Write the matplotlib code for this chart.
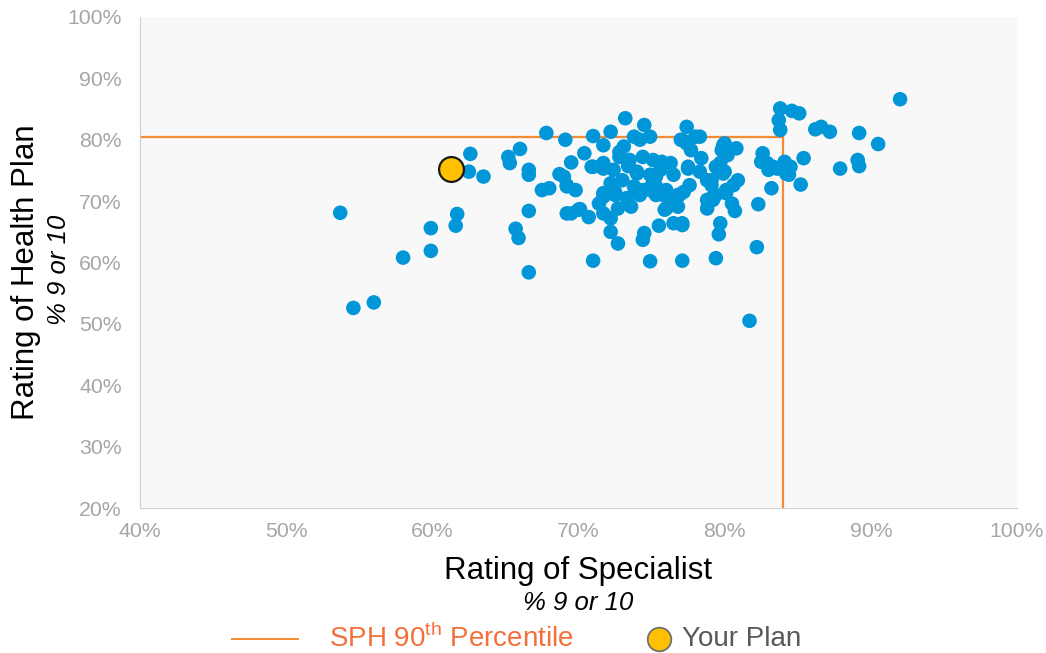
import matplotlib.pyplot as plt
from matplotlib.lines import Line2D
from matplotlib.ticker import PercentFormatter

plt.rcParams['font.family'] = ['Liberation Sans', 'DejaVu Sans']
plt.rcParams['mathtext.fontset'] = 'custom'
plt.rcParams['mathtext.rm'] = 'Liberation Sans'

# plans: (rating of specialist %, rating of health plan %)
plans = [
    (53.7, 68.1), (54.6, 52.6), (56.0, 53.5), (58.0, 60.8), (59.9, 61.9), (59.9, 65.6),
    (61.6, 66.0), (61.7, 67.9), (61.4, 74.5), (62.5, 74.8), (62.6, 77.7), (63.5, 74.0),
    (65.2, 77.2), (65.3, 76.2), (66.0, 78.5), (66.6, 75.1), (66.6, 74.3), (65.7, 65.5),
    (65.9, 64.0), (66.6, 68.4), (66.6, 58.4), (67.8, 81.1), (67.5, 71.8), (68.0, 72.1),
    (68.7, 74.4), (69.2, 72.6), (69.1, 80.0), (69.5, 76.3), (69.2, 68.0), (69.5, 68.0),
    (70.1, 68.7), (70.7, 67.4), (69.0, 74.0), (69.2, 72.4), (69.8, 71.8), (70.0, 68.6),
    (70.4, 77.8), (70.9, 75.6), (71.7, 75.3), (72.4, 75.1), (74.0, 74.5), (71.0, 80.6),
    (72.2, 81.3), (71.7, 79.1), (73.2, 83.5), (74.5, 82.4), (74.9, 80.5), (73.8, 80.5),
    (73.1, 78.9), (72.8, 77.2), (72.8, 78.0), (73.5, 76.7), (74.4, 77.2), (75.1, 76.7),
    (75.7, 76.4), (76.3, 76.2), (76.5, 74.3), (75.3, 74.0), (74.0, 74.8), (74.9, 74.3),
    (75.6, 75.1), (71.7, 76.2), (71.0, 75.6), (72.2, 72.9), (73.0, 73.4), (73.8, 72.4),
    (74.4, 71.8), (71.7, 71.3), (72.5, 71.0), (75.3, 71.0), (76.0, 71.8), (76.9, 71.0),
    (71.4, 69.6), (71.7, 70.7), (72.5, 71.5), (73.3, 70.5), (73.9, 71.8), (74.2, 71.0),
    (71.7, 68.0), (72.2, 67.2), (72.7, 68.8), (73.6, 69.1), (72.2, 65.0), (72.7, 63.1),
    (74.5, 64.8), (74.4, 63.7), (71.0, 60.3), (74.9, 60.2), (77.1, 60.3), (74.9, 71.8),
    (75.3, 72.4), (75.8, 71.0), (76.3, 70.2), (76.8, 71.0), (76.8, 69.1), (76.0, 68.8),
    (75.9, 68.6), (75.5, 66.0), (76.5, 66.4), (77.1, 66.1), (77.4, 82.1), (78.0, 80.5),
    (77.0, 80.0), (77.4, 79.4), (78.3, 80.5), (77.3, 79.7), (77.7, 78.3), (78.4, 77.0),
    (77.5, 75.6), (77.5, 75.3), (78.3, 74.8), (79.9, 79.1), (80.8, 78.6), (80.2, 77.5),
    (80.0, 79.4), (79.8, 78.3), (79.7, 76.2), (80.0, 74.8), (79.4, 75.6), (79.9, 74.5),
    (79.1, 73.4), (78.8, 73.4), (79.1, 72.6), (80.9, 73.4), (80.6, 72.6), (77.6, 72.6),
    (77.2, 71.5), (79.2, 70.7), (80.1, 71.3), (78.8, 70.2), (79.2, 70.2), (78.8, 68.8),
    (79.4, 71.0), (80.1, 71.8), (80.5, 69.6), (80.7, 68.4), (79.7, 66.4), (79.6, 64.6),
    (77.1, 66.4), (82.3, 69.5), (82.2, 62.5), (79.4, 60.7), (81.7, 50.5), (82.6, 77.8),
    (82.5, 76.4), (83.0, 75.1), (83.3, 75.6), (83.9, 75.6), (82.9, 76.2), (83.6, 75.3),
    (84.1, 76.4), (84.5, 75.6), (84.4, 74.3), (84.2, 74.5), (85.4, 77.0), (83.2, 72.1),
    (85.2, 72.7), (83.8, 85.1), (84.6, 84.7), (85.1, 84.3), (83.7, 83.2), (83.8, 81.6),
    (86.2, 81.7), (86.6, 82.1), (87.2, 81.3), (89.2, 81.1), (90.5, 79.3), (87.9, 75.3),
    (89.1, 76.7), (89.2, 75.7), (92.0, 86.6), (73.4, 75.7), (74.2, 80.0), (75.0, 72.5),
]
spec_x = [p[0] for p in plans]
plan_y = [p[1] for p in plans]

your_plan = (61.3, 75.3)
spec_p90 = 84.0
plan_p90 = 80.4

x_ticks = [40, 50, 60, 70, 80, 90, 100]
y_ticks = [20, 30, 40, 50, 60, 70, 80, 90, 100]

blue = '#0096D8'
orange = '#F58A34'
grey_txt = '#A6A6A6'

fig = plt.figure(figsize=(10.46, 6.53), dpi=100)
ax = fig.add_axes([0.1338, 0.222, 0.8385, 0.752])
ax.set_facecolor('#F8F8F8')

ax.plot([40, spec_p90], [plan_p90, plan_p90], color=orange, lw=1.6, zorder=1)
ax.plot([spec_p90, spec_p90], [20, plan_p90], color=orange, lw=1.6, zorder=1)
ax.scatter(spec_x, plan_y, s=110, color=blue, edgecolors='none', zorder=2)
ax.scatter([your_plan[0]], [your_plan[1]], s=320, color='#FFC000',
           edgecolors='#1A1A1A', linewidths=1.6, zorder=3)

ax.set_xlim(40, 100)
ax.set_ylim(20, 100)
ax.set_xticks(x_ticks)
ax.set_yticks(y_ticks)
ax.xaxis.set_major_formatter(PercentFormatter(decimals=0))
ax.yaxis.set_major_formatter(PercentFormatter(decimals=0))
ax.tick_params(length=0, labelsize=15.3, colors=grey_txt)
ax.tick_params(axis='y', pad=13)
ax.tick_params(axis='x', pad=10)
for s in ['top', 'right']:
    ax.spines[s].set_visible(False)
for s in ['left', 'bottom']:
    ax.spines[s].set_color('#D0D0D0')

fig.text(0.553, 0.126, 'Rating of Specialist', ha='center', va='center', fontsize=22.5)
fig.text(0.553, 0.076, '% 9 or 10', ha='center', va='center', fontsize=18.5, style='italic')
fig.text(0.025, 0.583, 'Rating of Health Plan', ha='center', va='center', fontsize=22.5,
         rotation=90)
fig.text(0.056, 0.587, '% 9 or 10', ha='center', va='center', fontsize=18.5, style='italic',
         rotation=90)

# legend drawn by hand in figure coordinates
leg_y = 0.022
fig.add_artist(Line2D([0.222, 0.285], [leg_y, leg_y], transform=fig.transFigure,
                      color=orange, lw=1.4))
fig.text(0.315, leg_y, 'SPH 90$^{\\mathrm{th}}$ Percentile', ha='left', va='center',
         fontsize=20, color='#F4703A')
fig.add_artist(Line2D([0.630], [leg_y], transform=fig.transFigure, marker='o', ls='none',
                      markersize=17, markerfacecolor='#FFC000', markeredgecolor='#707070',
                      markeredgewidth=1.3))
fig.text(0.652, leg_y, 'Your Plan', ha='left', va='center', fontsize=20, color='#595959')

fig.savefig('out.png', dpi=100)
